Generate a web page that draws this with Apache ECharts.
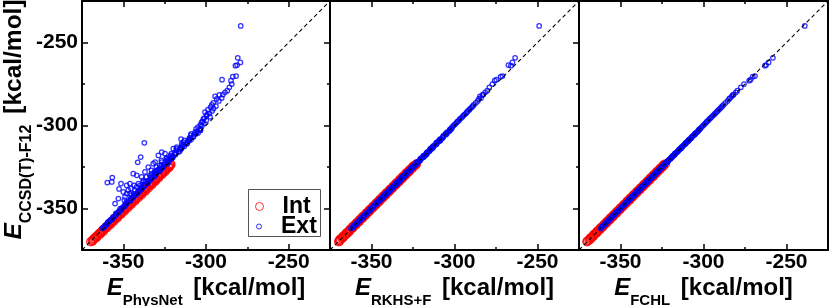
<!DOCTYPE html>
<html><head><meta charset="utf-8">
<script src="https://cdn.jsdelivr.net/npm/echarts@6/dist/echarts.min.js"></script>
<style>html,body{margin:0;padding:0;background:#fff}#c{width:830px;height:306px}</style>
</head><body><div id="c"></div>
<script>
// ---------------- data ----------------
const axisRange = [-375, -225];
const majorTicks = [-350, -300, -250];
const minorTicks = [-325, -275];
const modelNames = ['PhysNet', 'RKHS+F', 'FCHL'];
const refName = 'CCSD(T)-F12';
const unitLabel = '[kcal/mol]';

// Int (interpolation) set: reference energies (y) and model predictions (x)
const intRef = [
  -370.0,-369.1,-368.0,-367.2,-366.1,-365.0,-364.2,-363.1,-362.0,-361.2,
  -360.1,-359.0,-358.1,-357.2,-356.0,-355.1,-354.2,-353.0,-352.1,-351.0,
  -350.2,-349.1,-348.0,-347.2,-346.1,-345.0,-344.2,-343.1,-342.0,-341.1,
  -340.2,-339.0,-338.1,-337.2,-336.0,-335.1,-334.2,-333.0,-332.1,-331.0,
  -330.2,-329.1,-328.0,-327.2,-326.1,-325.0,-324.1,-323.2,
  -369.6,-368.5,-367.6,-366.6,-365.5,-364.6,-363.6,-362.5,-361.6,-360.6,
  -359.5,-358.6,-357.6,-356.5,-355.6,-354.6,-353.5,-352.6,-351.6,-350.6,
  -349.5,-348.6,-347.6,-346.5,-345.6,-344.6,-343.5,-342.6,-341.6,-340.6,
  -339.5,-338.6,-337.6,-336.5,-335.6,-334.6,-333.5,-332.6,-331.6,-330.6,
  -329.5,-328.6,-327.6,-326.5,-325.6,-324.6,-323.6];
const intPhys = [
  -369.7,-368.5,-367.4,-366.8,-365.4,-364.5,-363.4,-362.6,-361.1,-360.5,
  -359.2,-358.3,-357.1,-356.4,-355.1,-354.0,-353.3,-351.9,-351.0,-350.1,
  -348.9,-348.0,-346.9,-345.8,-344.9,-343.8,-342.7,-341.9,-340.5,-339.8,
  -338.6,-337.7,-336.5,-335.8,-334.3,-333.5,-332.6,-331.2,-330.3,-329.1,
  -328.2,-327.1,-325.9,-325.0,-323.9,-322.4,-321.9,-321.6,
  -368.6,-368.0,-366.3,-365.9,-364.0,-363.8,-362.0,-361.7,-359.9,-359.6,
  -357.7,-357.5,-355.7,-355.3,-353.6,-353.4,-351.4,-351.3,-349.4,-349.2,
  -347.2,-347.1,-345.2,-344.9,-343.1,-342.9,-340.9,-340.8,-338.9,-338.7,
  -336.7,-336.6,-334.8,-334.4,-332.7,-332.4,-330.6,-330.4,-328.7,-328.4,
  -326.6,-326.4,-324.7,-324.3,-322.6,-322.3,-321.2];
const intRkhs = [
  -369.8,-369.3,-367.8,-367.4,-365.9,-365.2,-364.0,-363.3,-361.8,-361.4,
  -359.9,-359.2,-357.9,-357.4,-355.8,-355.3,-354.0,-353.2,-351.9,-351.2,
  -350.0,-349.3,-347.8,-347.4,-345.9,-345.2,-344.0,-343.3,-341.8,-341.3,
  -340.0,-339.2,-337.9,-337.4,-335.8,-335.3,-334.0,-333.2,-331.9,-331.2,
  -330.0,-329.3,-327.8,-327.4,-325.9,-325.2,-323.9,-323.0,
  -369.2,-368.9,-367.2,-367.0,-365.1,-365.0,-363.2,-362.9,-361.2,-361.0,
  -359.1,-359.0,-357.2,-356.9,-355.2,-355.0,-353.1,-353.0,-351.2,-351.0,
  -349.1,-349.0,-347.2,-346.9,-345.2,-345.0,-343.1,-343.0,-341.2,-341.0,
  -339.1,-339.0,-337.2,-336.9,-335.2,-335.0,-333.1,-333.0,-331.2,-331.0,
  -329.1,-329.0,-327.2,-326.9,-325.2,-325.0,-323.2];
const intFchl = [
  -370.2,-368.9,-368.2,-367.0,-366.3,-364.8,-364.4,-362.9,-362.2,-361.0,
  -360.3,-358.8,-358.3,-357.0,-356.2,-354.9,-354.4,-352.8,-352.3,-350.8,
  -350.4,-348.9,-348.2,-347.0,-346.3,-344.8,-344.4,-342.9,-342.2,-340.9,
  -340.4,-338.8,-338.3,-337.0,-336.2,-334.9,-334.4,-332.8,-332.3,-330.8,
  -330.4,-328.9,-328.2,-327.0,-326.3,-324.8,-324.3,-323.0,
  -369.9,-368.2,-367.9,-366.3,-365.8,-364.3,-363.9,-362.2,-361.9,-360.3,
  -359.8,-358.3,-357.9,-356.2,-355.9,-354.3,-353.8,-352.3,-351.9,-350.3,
  -349.8,-348.3,-347.9,-346.2,-345.9,-344.3,-343.8,-342.3,-341.9,-340.3,
  -339.8,-338.3,-337.9,-336.2,-335.9,-334.3,-333.8,-332.3,-331.9,-330.3,
  -329.8,-328.3,-327.9,-326.2,-325.9,-324.3,-323.9];

// Ext (extrapolation) set
const extRef = [
  // high-energy tail
  -240.0,-259.2,-262.0,-263.6,-264.0,-270.2,-270.6,-272.4,-273.0,-275.0,
  -277.0,-279.0,-280.0,-281.4,-281.6,-282.4,-283.5,-284.0,-285.2,-286.4,
  -287.6,-288.3,-289.0,-289.8,-290.5,-291.2,-292.0,-292.7,-293.4,-294.0,
  -294.8,-295.5,-296.0,-296.8,-297.5,-298.0,-298.8,-299.5,-300.2,-301.0,
  // main band
  -302,-303,-304,-305,-306,-307,-308,-309,-310,-311,
  -312,-313,-314,-315,-316,-317,-318,-319,-320,-321,
  -322,-323,-324,-325,-326,-327,-328,-329,-330,-331,
  -332,-333,-334,-335,-336,-337,-338,-339,-340,-341,
  -342,-343,-344,-345,-346,-347,-348,-349,-350,-351,
  -352,-353,-354,-355,-356,-357,-358,-359,-360,-361,
  -362,
  -302.5,-303.5,-304.5,-305.5,-306.5,-307.5,-308.5,-309.5,-310.5,-311.5,
  -312.5,-313.5,-314.5,-315.5,-316.5,-317.5,-318.5,-319.5,-320.5,-321.5,
  -322.5,-323.5,-324.5,-325.5,-326.5,-327.5,-328.5,-329.5,-330.5,-331.5,
  -332.5,-333.5,-334.5,-335.5,-336.5,-337.5,-338.5,-339.5,-340.5,-341.5,
  -342.5,-343.5,-344.5,-345.5,-346.5,-347.5,-348.5,-349.5,-350.5,-351.5,
  -352.5,-353.5,-354.5,-355.5,-356.5,-357.5,-358.5,-359.5,-360.5,-361.5,
  // structures poorly described by PhysNet
  -334.4,-334.0,-331.4,-338.2,-335.0,-340.0,-336.0,-335.0,-322.2,-319.0,
  -310.4,-308.2,-329.0,-330.0,-328.0,-331.0,-325.0,-323.0,-322.0,-318.0,
  -316.0,-317.0,-319.5,-314.0,-313.0,-318.5,-322.0,-327.0,-329.0,-333.0,
  -335.0,-336.0,-338.0,-339.0,-341.0,-343.0,-345.0,-311.0,-309.0,-344.0,
  -347.0,-341.0,-339.0,-336.0,-331.0,-327.0,-325.0,-321.0,-320.0,-317.0,
  -314.0,-309.0,-305.0,-302.0,-342.0,-337.0,-334.0,-330.0,-328.0,-324.0];
const extPhys = [
  -279.0,-280.8,-279.2,-281.2,-282.2,-281.8,-283.8,-290.3,-284.9,-284.4,
  -285.9,-287.1,-288.5,-289.8,-291.9,-294.5,-290.5,-293.5,-292.2,-295.6,
  -296.5,-294.0,-297.2,-295.4,-298.8,-296.3,-300.6,-298.0,-299.4,-299.6,
  -297.6,-301.0,-301.6,-299.8,-302.0,-302.6,-301.3,-303.4,-302.5,-304.8,
  -303.5,-303.4,-306.6,-306.0,-309.2,-307.7,-309.9,-310.2,-313.8,-311.5,
  -314.3,-314.4,-314.9,-317.8,-316.6,-318.7,-321.4,-320.1,-320.8,-323.2,
  -323.5,-323.4,-326.9,-326.0,-327.8,-327.6,-331.1,-330.3,-330.9,-333.4,
  -332.7,-334.6,-336.7,-335.5,-337.2,-339.0,-338.8,-340.4,-340.6,-343.5,
  -343.1,-343.9,-345.7,-345.5,-348.1,-347.8,-349.3,-349.6,-351.9,-351.4,
  -353.0,-354.5,-354.7,-356.2,-356.5,-357.9,-359.1,-359.6,-360.8,-361.5,
  -362.7,
  -303.3,-305.5,-304.8,-307.1,-307.6,-310.0,-309.0,-310.8,-311.4,-313.6,
  -313.1,-315.3,-315.7,-315.9,-318.8,-318.4,-320.0,-320.2,-323.1,-322.5,
  -323.0,-325.4,-325.7,-326.3,-328.7,-328.1,-329.9,-330.5,-330.9,-333.2,
  -333.4,-334.8,-335.0,-337.5,-337.2,-338.6,-339.1,-341.0,-341.4,-341.9,
  -343.7,-344.2,-345.5,-346.0,-347.8,-348.3,-348.9,-350.6,-351.1,-352.4,
  -353.0,-354.3,-354.9,-356.2,-357.0,-358.1,-359.4,-359.9,-361.1,-362.0,
  -359.7,-357.0,-356.7,-352.6,-351.4,-350.0,-348.0,-346.0,-341.3,-339.5,
  -337.3,-315.1,-344.0,-341.9,-336.9,-338.9,-334.9,-331.9,-330.8,-328.8,
  -326.8,-324.8,-323.8,-319.8,-317.7,-320.7,-326.8,-329.8,-332.8,-337.9,
  -340.9,-343.4,-345.4,-347.0,-348.0,-349.0,-349.4,-314.7,-310.7,-353.0,
  -355.0,-346.0,-343.0,-340.0,-336.0,-333.0,-330.0,-327.0,-324.0,-321.0,
  -318.0,-313.0,-309.0,-306.0,-345.0,-342.0,-338.0,-334.0,-331.0,-328.0];
const extRkhs = [
  -249.0,-263.5,-265.1,-267.5,-266.0,-271.1,-272.2,-274.8,-275.8,-277.2,
  -279.0,-280.2,-281.5,-282.6,-283.2,-284.7,-284.0,-285.3,-286.0,-287.2,
  -288.4,-289.0,-289.6,-290.5,-291.0,-291.9,-292.6,-293.1,-294.0,-294.7,
  -295.2,-296.0,-296.7,-297.2,-298.0,-298.6,-299.2,-300.0,-300.7,-301.5,
  -302.3,-302.8,-304.4,-304.7,-306.5,-306.8,-308.3,-308.6,-310.4,-310.8,
  -312.3,-312.7,-314.4,-314.8,-316.3,-316.7,-318.4,-318.8,-320.3,-320.6,
  -322.4,-322.7,-324.3,-324.8,-326.4,-326.7,-328.3,-328.8,-330.4,-330.7,
  -332.3,-332.8,-334.4,-334.7,-336.3,-336.8,-338.4,-338.7,-340.3,-340.8,
  -342.4,-342.7,-344.3,-344.8,-346.4,-346.7,-348.3,-348.8,-350.4,-350.7,
  -352.3,-352.8,-354.4,-354.7,-356.3,-356.8,-358.4,-358.7,-360.3,-360.8,
  -362.4,
  -302.9,-303.2,-304.9,-305.2,-306.9,-307.2,-308.9,-309.2,-310.9,-311.2,
  -312.9,-313.2,-314.9,-315.2,-316.9,-317.2,-318.9,-319.2,-320.9,-321.2,
  -322.9,-323.2,-324.9,-325.2,-326.9,-327.2,-328.9,-329.2,-330.9,-331.2,
  -332.9,-333.2,-334.9,-335.2,-336.9,-337.2,-338.9,-339.2,-340.9,-341.2,
  -342.9,-343.2,-344.9,-345.2,-346.9,-347.2,-348.9,-349.2,-350.9,-351.2,
  -352.9,-353.2,-354.9,-355.2,-356.9,-357.2,-358.9,-359.2,-360.9,-361.2,
  -334.1,-333.6,-331.8,-337.9,-335.3,-339.6,-336.4,-334.7,-322.5,-318.7,
  -310.9,-308.0,-329.3,-329.7,-328.4,-330.6,-325.3,-322.7,-322.4,-317.6,
  -316.3,-316.8,-319.8,-313.7,-313.4,-318.2,-322.3,-326.7,-329.4,-332.6,
  -335.3,-335.7,-338.4,-338.6,-341.3,-342.7,-345.3,-310.7,-309.3,-343.7,
  -347.3,-340.7,-339.3,-335.7,-331.3,-326.7,-325.3,-320.7,-320.3,-316.7,
  -314.3,-308.7,-305.3,-301.7,-342.3,-336.7,-334.3,-329.7,-328.3,-323.7];
const extFchl = [
  -239.0,-258.2,-260.8,-262.3,-263.0,-269.0,-270.3,-271.6,-272.5,-275.6,
  -277.5,-279.6,-280.5,-281.8,-282.3,-283.0,-284.0,-284.6,-285.5,-286.8,
  -288.0,-288.6,-289.3,-290.0,-290.8,-291.5,-292.2,-293.0,-293.6,-294.3,
  -295.0,-295.8,-296.3,-297.0,-297.8,-298.3,-299.0,-299.7,-300.4,-301.2,
  -302.1,-303.1,-303.9,-305.2,-306.1,-307.2,-307.9,-309.1,-310.2,-311.0,
  -312.1,-313.2,-313.9,-315.1,-316.0,-317.2,-317.9,-319.1,-320.0,-321.2,
  -321.9,-323.1,-324.0,-325.2,-325.9,-327.1,-328.0,-329.2,-329.9,-331.1,
  -332.0,-333.2,-333.9,-335.1,-336.0,-337.2,-337.9,-339.1,-340.0,-341.2,
  -341.9,-343.1,-344.0,-345.2,-345.9,-347.1,-348.0,-349.2,-349.9,-351.1,
  -352.0,-353.2,-353.9,-355.1,-356.0,-357.2,-357.9,-359.1,-360.0,-361.2,
  -361.9,
  -302.7,-303.3,-304.7,-305.3,-306.7,-307.3,-308.7,-309.3,-310.7,-311.3,
  -312.7,-313.3,-314.7,-315.3,-316.7,-317.3,-318.7,-319.3,-320.7,-321.3,
  -322.7,-323.3,-324.7,-325.3,-326.7,-327.3,-328.7,-329.3,-330.7,-331.3,
  -332.7,-333.3,-334.7,-335.3,-336.7,-337.3,-338.7,-339.3,-340.7,-341.3,
  -342.7,-343.3,-344.7,-345.3,-346.7,-347.3,-348.7,-349.3,-350.7,-351.3,
  -352.7,-353.3,-354.7,-355.3,-356.7,-357.3,-358.7,-359.3,-360.7,-361.3,
  -334.5,-333.8,-331.3,-338.3,-334.9,-340.1,-335.9,-335.1,-322.1,-319.1,
  -310.3,-308.3,-328.9,-330.1,-327.9,-331.1,-324.9,-323.1,-321.9,-318.1,
  -315.9,-317.1,-319.4,-314.1,-312.9,-318.6,-321.9,-327.1,-328.9,-333.1,
  -334.9,-336.1,-337.9,-339.1,-340.9,-343.1,-344.9,-311.1,-308.9,-344.1,
  -346.9,-341.1,-338.9,-336.1,-330.9,-327.1,-324.9,-321.1,-319.9,-317.1,
  -313.9,-309.1,-304.9,-302.1,-341.9,-337.1,-333.9,-330.1,-327.9,-324.1];

// ---------------- chart ----------------
const FONT = '"Liberation Sans", Arial, Helvetica, sans-serif';
const intX = [intPhys, intRkhs, intFchl];
const extX = [extPhys, extRkhs, extFchl];
const zip = (xs, ys) => ys.map((y, i) => [xs[i], y]);

const lefts = [82, 330, 579];
const widths = [248, 249, 249];
const grid = lefts.map((l, i) => ({ left: l, top: 1, width: widths[i], height: 249, outerBoundsMode: 'none', containLabel: false }));

function mkRich(big, small, pad) {
  return {
    e: { fontFamily: FONT, fontSize: big, fontWeight: 'bold', fontStyle: 'italic', color: '#000', verticalAlign: 'bottom', padding: [0, 0, pad, 0] },
    s: { fontFamily: FONT, fontSize: small, fontWeight: 'bold', color: '#000', verticalAlign: 'bottom' },
    u: { fontFamily: FONT, fontSize: big, fontWeight: 'bold', color: '#000', verticalAlign: 'bottom', padding: [0, 0, pad, 4] }
  };
}
const titleText = sub => '{e|E}{s|' + sub + '}{u| ' + unitLabel + '}';

const black = { color: '#000', width: 2 };
function mkAxis(gi, position, ticks, len, opts) {
  return Object.assign({
    type: 'value', gridIndex: gi, position: position,
    min: axisRange[0], max: axisRange[1], interval: 25,
    axisLine: { show: false, onZero: false, lineStyle: black },
    axisTick: { show: ticks !== null, inside: true, length: len, customValues: ticks || [], lineStyle: { color: '#000', width: 1.5 } },
    axisLabel: { show: false },
    splitLine: { show: false }
  }, opts || {});
}
const tickLabel = { show: true, customValues: majorTicks, color: '#000', fontFamily: FONT, fontWeight: 'bold', fontSize: 21, margin: 4 };
const xTickLabel = Object.assign({}, tickLabel, { margin: 2 });

const xAxis = [], yAxis = [];
for (let i = 0; i < 3; i++) {
  xAxis.push(mkAxis(i, 'bottom', majorTicks, 6, {
    axisLine: { show: true, onZero: false, lineStyle: black },
    axisLabel: xTickLabel,
    name: titleText(modelNames[i]), nameLocation: 'middle', nameGap: 26, nameMoveOverlap: false,
    nameTextStyle: { rich: mkRich(24, 15, 8), fontFamily: FONT, fontSize: 24, fontWeight: 'bold', color: '#000' }
  }));
  xAxis.push(mkAxis(i, 'bottom', minorTicks, 3));
  xAxis.push(mkAxis(i, 'top', majorTicks, 6, { axisLine: { show: true, onZero: false, lineStyle: black } }));
  xAxis.push(mkAxis(i, 'top', minorTicks, 3));

  const leftOpts = { axisLine: { show: true, onZero: false, lineStyle: black } };
  if (i === 0) {
    Object.assign(leftOpts, {
      axisLabel: tickLabel,
      name: titleText(refName), nameLocation: 'middle', nameGap: 47, nameMoveOverlap: false,
      nameTextStyle: { rich: mkRich(24.5, 16, 8), fontFamily: FONT, fontSize: 24.5, fontWeight: 'bold', color: '#000', padding: [0, 0, 0, 12] }
    });
  }
  yAxis.push(mkAxis(i, 'left', i === 0 ? majorTicks : null, 6, leftOpts));
  yAxis.push(mkAxis(i, 'left', i === 0 ? minorTicks : null, 3));
  yAxis.push(mkAxis(i, 'right', i < 2 ? majorTicks : null, 6, { axisLine: { show: true, onZero: false, lineStyle: black } }));
  yAxis.push(mkAxis(i, 'right', i < 2 ? minorTicks : null, 3));
}

const series = [];
for (let i = 0; i < 3; i++) {
  series.push({
    name: 'Int', type: 'scatter', xAxisIndex: 4 * i, yAxisIndex: 4 * i,
    data: zip(intX[i], intRef), symbol: 'circle', symbolSize: 8, z: 2,
    itemStyle: { color: 'rgba(0,0,0,0)', borderColor: '#ff0000', borderWidth: 1.5 }
  });
  series.push({
    name: 'Ext', type: 'scatter', xAxisIndex: 4 * i, yAxisIndex: 4 * i,
    data: zip(extX[i], extRef), symbol: 'circle', symbolSize: 4.5, z: 3,
    itemStyle: { color: 'rgba(0,0,0,0)', borderColor: '#0000ff', borderWidth: 1.25 }
  });
  series.push({
    name: 'diag', type: 'line', xAxisIndex: 4 * i, yAxisIndex: 4 * i,
    data: [[axisRange[0], axisRange[0]], [axisRange[1], axisRange[1]]],
    showSymbol: false, symbol: 'none', silent: true, z: 5,
    lineStyle: { color: '#000', width: 1.1, type: [4, 3] }
  });
}

const legendText = { color: '#000', fontFamily: FONT, fontWeight: 'bold', fontSize: 23 };
const chart = echarts.init(document.getElementById('c'), null, { renderer: 'canvas' });
chart.setOption({
  animation: false,
  backgroundColor: '#fff',
  grid: grid, xAxis: xAxis, yAxis: yAxis, series: series,
  legend: [
    { data: ['Int'], left: 255, top: 195, padding: 0, itemWidth: 30, itemHeight: 8, selectedMode: false,
      itemStyle: { borderWidth: 1 }, textStyle: Object.assign({ padding: [0, 0, 0, 3] }, legendText) },
    { data: ['Ext'], left: 256, top: 215, padding: 0, itemWidth: 30, itemHeight: 5, selectedMode: false,
      itemStyle: { borderWidth: 1 }, textStyle: Object.assign({ padding: [0, 0, 0, 2] }, legendText) }
  ],
  graphic: [{ type: 'rect', z: 1, shape: { x: 248.5, y: 189.5, width: 72, height: 47 },
    style: { fill: '#fff', stroke: '#555', lineWidth: 1 } }]
});
</script></body></html>
